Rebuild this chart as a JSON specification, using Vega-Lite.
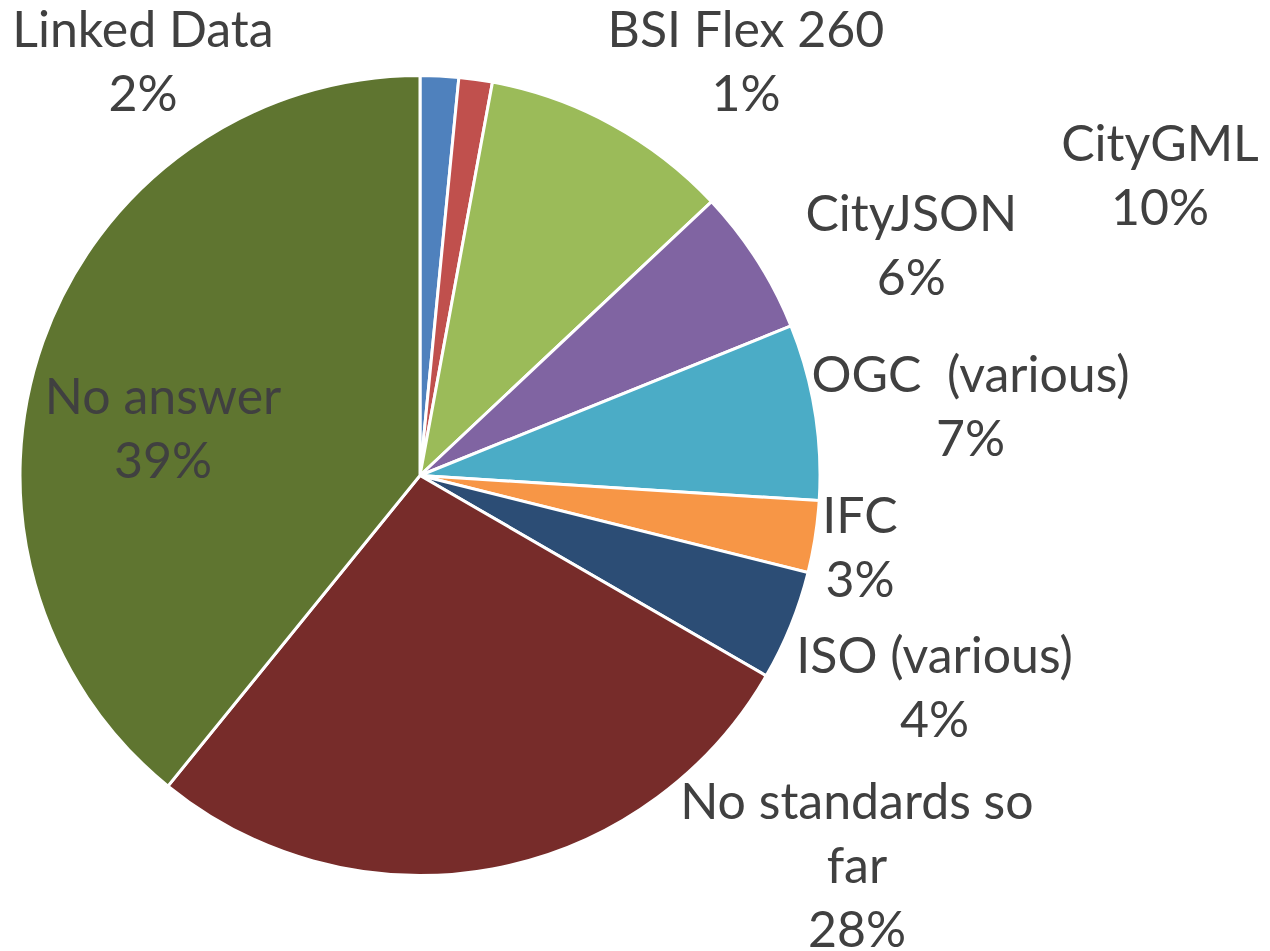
{
  "$schema": "https://vega.github.io/schema/vega-lite/v6.json",
  "width": 840,
  "height": 951,
  "autosize": {"type": "none"},
  "padding": {"left": 0, "top": 0, "right": 430, "bottom": 0},
  "background": "white",
  "config": {
    "view": {"stroke": null},
    "text": {"font": "Lato", "fontSize": 50, "color": "#404040", "lineHeight": 64, "baseline": "middle", "align": "center"}
  },
  "data": {
    "values": [
      {"order": 1, "category": "Linked Data", "value": 1.55},
      {"order": 2, "category": "BSI Flex 260", "value": 1.35},
      {"order": 3, "category": "CityGML", "value": 10.1},
      {"order": 4, "category": "CityJSON", "value": 5.9},
      {"order": 5, "category": "OGC \u00a0(various)", "value": 7.1},
      {"order": 6, "category": "IFC", "value": 2.9},
      {"order": 7, "category": "ISO (various)", "value": 4.45},
      {"order": 8, "category": "No standards so far", "value": 27.5},
      {"order": 9, "category": "No answer", "value": 39.15}
    ]
  },
  "transform": [
    {"stack": "value", "groupby": [], "sort": [{"field": "order", "order": "ascending"}], "as": ["v0", "v1"]},
    {"calculate": "(datum.v0 + datum.v1) / 2", "as": "vmid"},
    {"calculate": "format(datum.value, '.0f') + '%'", "as": "pct"},
    {"calculate": "datum.category === 'No standards so far' ? ['No standards so', 'far', datum.pct] : [datum.category, datum.pct]", "as": "label"}
  ],
  "layer": [
    {
      "mark": {"type": "arc", "radius": 400, "stroke": "white", "strokeWidth": 3},
      "encoding": {
        "theta": {"field": "v0", "type": "quantitative", "stack": null, "scale": {"domain": [0, 100]}},
        "theta2": {"field": "v1"},
        "color": {
          "field": "order",
          "type": "ordinal",
          "legend": null,
          "scale": {
            "domain": [1, 2, 3, 4, 5, 6, 7, 8, 9],
            "range": ["#4F81BD", "#C0504D", "#9BBB59", "#8064A2", "#4BACC6", "#F79646", "#2C4D75", "#772C2A", "#5F7530"]
          }
        }
      }
    },
    {
      "transform": [{"filter": "datum.order === 1"}],
      "mark": {"type": "text", "radius": 430, "dx": -298, "dy": -14},
      "encoding": {"theta": {"field": "vmid", "type": "quantitative", "stack": null}, "text": {"field": "label"}}
    },
    {
      "transform": [{"filter": "datum.order === 2"}],
      "mark": {"type": "text", "radius": 430, "dx": 266, "dy": -18},
      "encoding": {"theta": {"field": "vmid", "type": "quantitative", "stack": null}, "text": {"field": "label"}}
    },
    {
      "transform": [{"filter": "datum.order === 3"}],
      "mark": {"type": "text", "radius": 430, "dx": 534, "dy": 48},
      "encoding": {"theta": {"field": "vmid", "type": "quantitative", "stack": null}, "text": {"field": "label"}}
    },
    {
      "transform": [{"filter": "datum.order === 4"}],
      "mark": {"type": "text", "radius": 430, "dx": 129, "dy": -28},
      "encoding": {"theta": {"field": "vmid", "type": "quantitative", "stack": null}, "text": {"field": "label"}}
    },
    {
      "transform": [{"filter": "datum.order === 5"}],
      "mark": {"type": "text", "radius": 430, "dx": 126, "dy": -30},
      "encoding": {"theta": {"field": "vmid", "type": "quantitative", "stack": null}, "text": {"field": "label"}}
    },
    {
      "transform": [{"filter": "datum.order === 6"}],
      "mark": {"type": "text", "radius": 430, "dx": 15, "dy": -23},
      "encoding": {"theta": {"field": "vmid", "type": "quantitative", "stack": null}, "text": {"field": "label"}}
    },
    {
      "transform": [{"filter": "datum.order === 7"}],
      "mark": {"type": "text", "radius": 430, "dx": 116, "dy": 21},
      "encoding": {"theta": {"field": "vmid", "type": "quantitative", "stack": null}, "text": {"field": "label"}}
    },
    {
      "transform": [{"filter": "datum.order === 8"}],
      "mark": {"type": "text", "radius": 430, "dx": 359, "dy": -94},
      "encoding": {"theta": {"field": "vmid", "type": "quantitative", "stack": null}, "text": {"field": "label"}}
    },
    {
      "transform": [{"filter": "datum.order === 9"}],
      "mark": {"type": "text", "radius": 262, "dx": -10, "dy": 11},
      "encoding": {"theta": {"field": "vmid", "type": "quantitative", "stack": null}, "text": {"field": "label"}}
    }
  ]
}
